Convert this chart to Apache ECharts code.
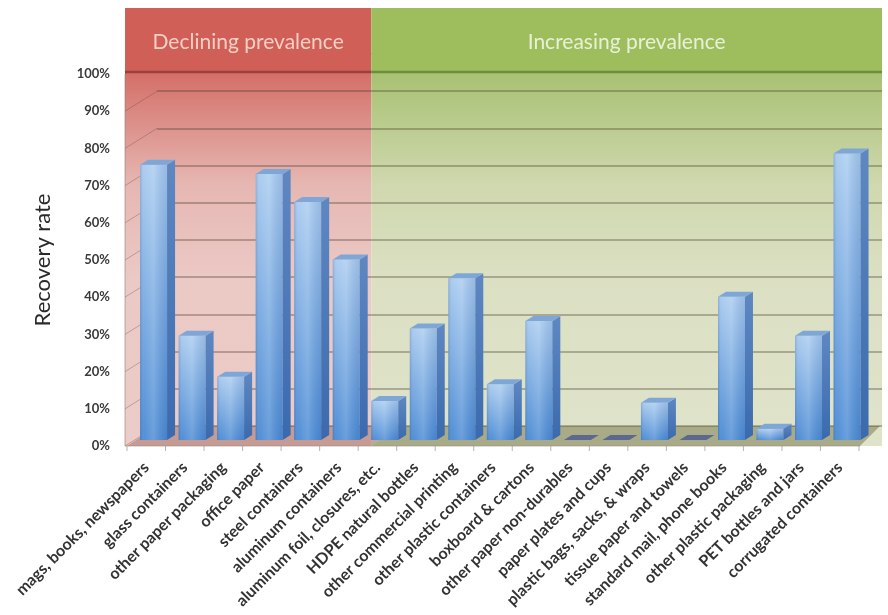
<!DOCTYPE html>
<html>
<head>
<meta charset="utf-8">
<script src="https://cdn.jsdelivr.net/npm/echarts@6/dist/echarts.min.js"></script>
<style>
  html, body { margin: 0; padding: 0; background: #ffffff; }
  #chart { width: 888px; height: 615px; }
</style>
</head>
<body>
<div id="chart"></div>
<script>
// Material categories and their recovery rates (%)
const categories = [
  'mags, books, newspapers', 'glass containers', 'other paper packaging', 'office paper',
  'steel containers', 'aluminum containers', 'aluminum foil, closures, etc.',
  'HDPE natural bottles', 'other commercial printing', 'other plastic containers',
  'boxboard & cartons', 'other paper non-durables', 'paper plates and cups',
  'plastic bags, sacks, & wraps', 'tissue paper and towels', 'standard mail, phone books',
  'other plastic packaging', 'PET bottles and jars', 'corrugated containers'
];
const recoveryRate = [74, 28, 17, 71.5, 64, 48.5, 10.5, 30, 43.5, 15, 32, 0, 0, 10, 0, 38.5, 3, 28, 77];
const valueTicks = [0, 10, 20, 30, 40, 50, 60, 70, 80, 90, 100];
const groupNames = ['Declining prevalence', 'Increasing prevalence'];
const groupFirstIndex = [0, 6];

const FONT = 'Lato, "Open Sans", sans-serif';

// Front plane (axis labels) and back wall (gridlines) of the 3D box
const front = { left: 127, right: 859, top: 74, bottom: 446 };
const back = { left: 157, right: 882, top: 54, bottom: 426 };
const HEADER_TOP = 8, HEADER_BOTTOM = 72, BOX_RIGHT = 882, BOX_LEFT = 125;
const DEPTH_X = 8, DEPTH_Y = -5;   // bar depth
const LIFT_Y = -6;                 // bars stand slightly back on the floor

const chart = echarts.init(document.getElementById('chart'), null, { renderer: 'canvas' });

function renderBar(params, api) {
  const i = api.value(0);
  const v = api.value(1);
  const band = api.size([1, 0])[0];
  const w = band * 0.7;
  const top = api.coord([i, v]);
  const base = api.coord([i, 0]);
  const x0 = top[0] - band * 0.16;
  const yb = base[1] + LIFT_Y;
  const yt = top[1] + LIFT_Y;
  const children = [];
  if (v <= 0) {
    children.push({
      type: 'polygon',
      shape: { points: [[x0, yb], [x0 + w, yb], [x0 + w + DEPTH_X, yb + DEPTH_Y], [x0 + DEPTH_X, yb + DEPTH_Y]] },
      style: { fill: '#5d6890' }
    });
    return { type: 'group', children };
  }
  // front face
  children.push({
    type: 'rect',
    shape: { x: x0, y: yt, width: w, height: yb - yt },
    style: {
      fill: new echarts.graphic.LinearGradient(0, 0, 0, 1, [
        { offset: 0, color: '#a9cbef' },
        { offset: 1, color: '#4a8ad4' }
      ])
    }
  });
  // soft vertical shading across the front face
  children.push({
    type: 'rect',
    shape: { x: x0, y: yt, width: w, height: yb - yt },
    style: {
      fill: new echarts.graphic.LinearGradient(0, 0, 1, 0, [
        { offset: 0, color: 'rgba(30,70,140,0.22)' },
        { offset: 0.15, color: 'rgba(255,255,255,0.05)' },
        { offset: 0.5, color: 'rgba(255,255,255,0.18)' },
        { offset: 1, color: 'rgba(30,70,140,0.12)' }
      ])
    }
  });
  // side face
  children.push({
    type: 'polygon',
    shape: { points: [[x0 + w, yb], [x0 + w, yt], [x0 + w + DEPTH_X, yt + DEPTH_Y], [x0 + w + DEPTH_X, yb + DEPTH_Y]] },
    style: {
      fill: new echarts.graphic.LinearGradient(0, 0, 0, 1, [
        { offset: 0, color: '#5f88c2' },
        { offset: 1, color: '#3a6aae' }
      ])
    }
  });
  // top face
  children.push({
    type: 'polygon',
    shape: { points: [[x0, yt], [x0 + w, yt], [x0 + w + DEPTH_X, yt + DEPTH_Y], [x0 + DEPTH_X, yt + DEPTH_Y]] },
    style: { fill: '#7ea7d8' }
  });
  return { type: 'group', children };
}

chart.setOption({
  animation: false,
  backgroundColor: '#ffffff',
  grid: [
    { left: front.left, right: 888 - front.right, top: front.top, bottom: 615 - front.bottom, containLabel: false },
    { left: back.left, right: 888 - back.right, top: back.top, bottom: 615 - back.bottom, containLabel: false }
  ],
  xAxis: [
    {
      type: 'category', gridIndex: 0, data: categories,
      axisLine: { show: false },
      axisTick: { show: false },
      axisLabel: {
        interval: 0, rotate: 45, margin: 19,
        fontFamily: FONT, fontSize: 16, fontWeight: 'bold', color: '#333333'
      }
    },
    { type: 'value', gridIndex: 1, show: false, min: 0, max: 1 }
  ],
  yAxis: [
    {
      type: 'value', gridIndex: 0, min: 0, max: 100, interval: 10,
      name: 'Recovery rate', nameLocation: 'middle', nameGap: 73, nameRotate: 90,
      nameTextStyle: { fontFamily: FONT, fontSize: 22, color: '#2a2a2a' },
      axisLine: { show: false },
      axisTick: { show: false },
      splitLine: { show: false },
      axisLabel: {
        formatter: '{value}%', margin: 17,
        fontFamily: FONT, fontSize: 13, fontWeight: 'bold', color: '#3a3a3a'
      }
    },
    {
      type: 'value', gridIndex: 1, min: 0, max: 100, interval: 10,
      axisLine: { show: false }, axisTick: { show: false }, axisLabel: { show: false },
      splitLine: { show: true, lineStyle: { color: 'rgba(70,60,40,0.45)', width: 1.6 } }
    }
  ],
  series: [
    {
      type: 'custom', xAxisIndex: 0, yAxisIndex: 0, z: 5,
      renderItem: renderBar,
      data: recoveryRate.map((v, i) => [i, v])
    }
  ]
});

// Background panels, floor, side wall and group headers
(function drawDecor() {
  const bandStart = chart.convertToPixel({ xAxisIndex: 0 }, 0);
  const band = chart.convertToPixel({ xAxisIndex: 0 }, 1) - bandStart;
  const splitX = chart.convertToPixel({ xAxisIndex: 0 }, groupFirstIndex[1]) - band * 0.16;
  const yFront = v => chart.convertToPixel({ yAxisIndex: 0 }, v);
  const yBack = v => chart.convertToPixel({ yAxisIndex: 1 }, v);
  const floorFront = yFront(0), floorBack = yBack(0);
  const regions = [
    { x0: BOX_LEFT, x1: splitX, head: '#cf5f57', edge: '#99413a', text: '#f5cfc4',
      grad: [['#d46e67', 0], ['#e6b7b2', 0.3], ['#ebc9c5', 0.55], ['#ecccc8', 1]],
      floor: 'rgba(150,95,85,0.45)' },
    { x0: splitX, x1: BOX_RIGHT, head: '#9ebe5e', edge: '#6f8d3f', text: '#e8f0d6',
      grad: [['#a8c172', 0], ['#cfd8ae', 0.3], ['#dbe0c3', 0.55], ['#dfe3ca', 1]],
      floor: 'rgba(115,115,70,0.5)' }
  ];
  const els = [];
  regions.forEach((r, k) => {
    els.push({
      type: 'rect', z: -10,
      shape: { x: r.x0, y: HEADER_BOTTOM, width: r.x1 - r.x0, height: floorFront - HEADER_BOTTOM },
      style: { fill: new echarts.graphic.LinearGradient(0, 0, 0, 1, r.grad.map(g => ({ offset: g[1], color: g[0] }))) }
    });
    // header band sits over the back wall
    els.push({
      type: 'rect', z: 10,
      shape: { x: r.x0, y: HEADER_TOP, width: r.x1 - r.x0, height: HEADER_BOTTOM - HEADER_TOP },
      style: { fill: r.head }
    });
    els.push({
      type: 'line', z: 11,
      shape: { x1: r.x0, y1: HEADER_BOTTOM, x2: r.x1, y2: HEADER_BOTTOM },
      style: { stroke: r.edge, lineWidth: 2.5 }
    });
    els.push({
      type: 'text', z: 20,
      style: {
        text: groupNames[k], x: (r.x0 + r.x1) / 2, y: (HEADER_TOP + HEADER_BOTTOM) / 2 + 2,
        align: 'center', verticalAlign: 'middle',
        font: '21px ' + FONT, fill: r.text
      }
    });
  });
  // floor
  const fr = front.right + 1;
  regions.forEach(r => {
    const a = Math.max(r.x0, front.left), b = Math.min(r.x1, fr);
    const t = x => (x - front.left) / (fr - front.left);
    const bx = x => back.left + t(x) * (back.right - 2 - back.left);
    els.push({
      type: 'polygon', z: -4,
      shape: { points: [[a, floorFront], [b, floorFront], [bx(b), floorBack], [bx(a), floorBack]] },
      style: { fill: r.floor }
    });
  });
  // left side wall gridlines
  valueTicks.forEach(v => {
    els.push({
      type: 'line', z: -4,
      shape: { x1: BOX_LEFT, y1: yFront(v), x2: back.left, y2: yBack(v) },
      style: { stroke: 'rgba(110,70,60,0.35)', lineWidth: 1 }
    });
  });
  // left axis line and category ticks
  els.push({
    type: 'line', z: -3,
    shape: { x1: BOX_LEFT, y1: yFront(100), x2: BOX_LEFT, y2: floorFront },
    style: { stroke: 'rgba(150,120,120,0.6)', lineWidth: 1 }
  });
  els.push({
    type: 'line', z: -3,
    shape: { x1: BOX_LEFT, y1: floorFront, x2: fr, y2: floorFront },
    style: { stroke: 'rgba(150,140,130,0.6)', lineWidth: 1 }
  });
  for (let i = 0; i <= categories.length; i++) {
    const x = bandStart - band / 2 + i * band;
    els.push({
      type: 'line', z: -3,
      shape: { x1: x, y1: floorFront, x2: x, y2: floorFront + 5 },
      style: { stroke: 'rgba(150,150,150,0.7)', lineWidth: 1 }
    });
  }
  chart.setOption({ graphic: { elements: els } });
})();
</script>
</body>
</html>
